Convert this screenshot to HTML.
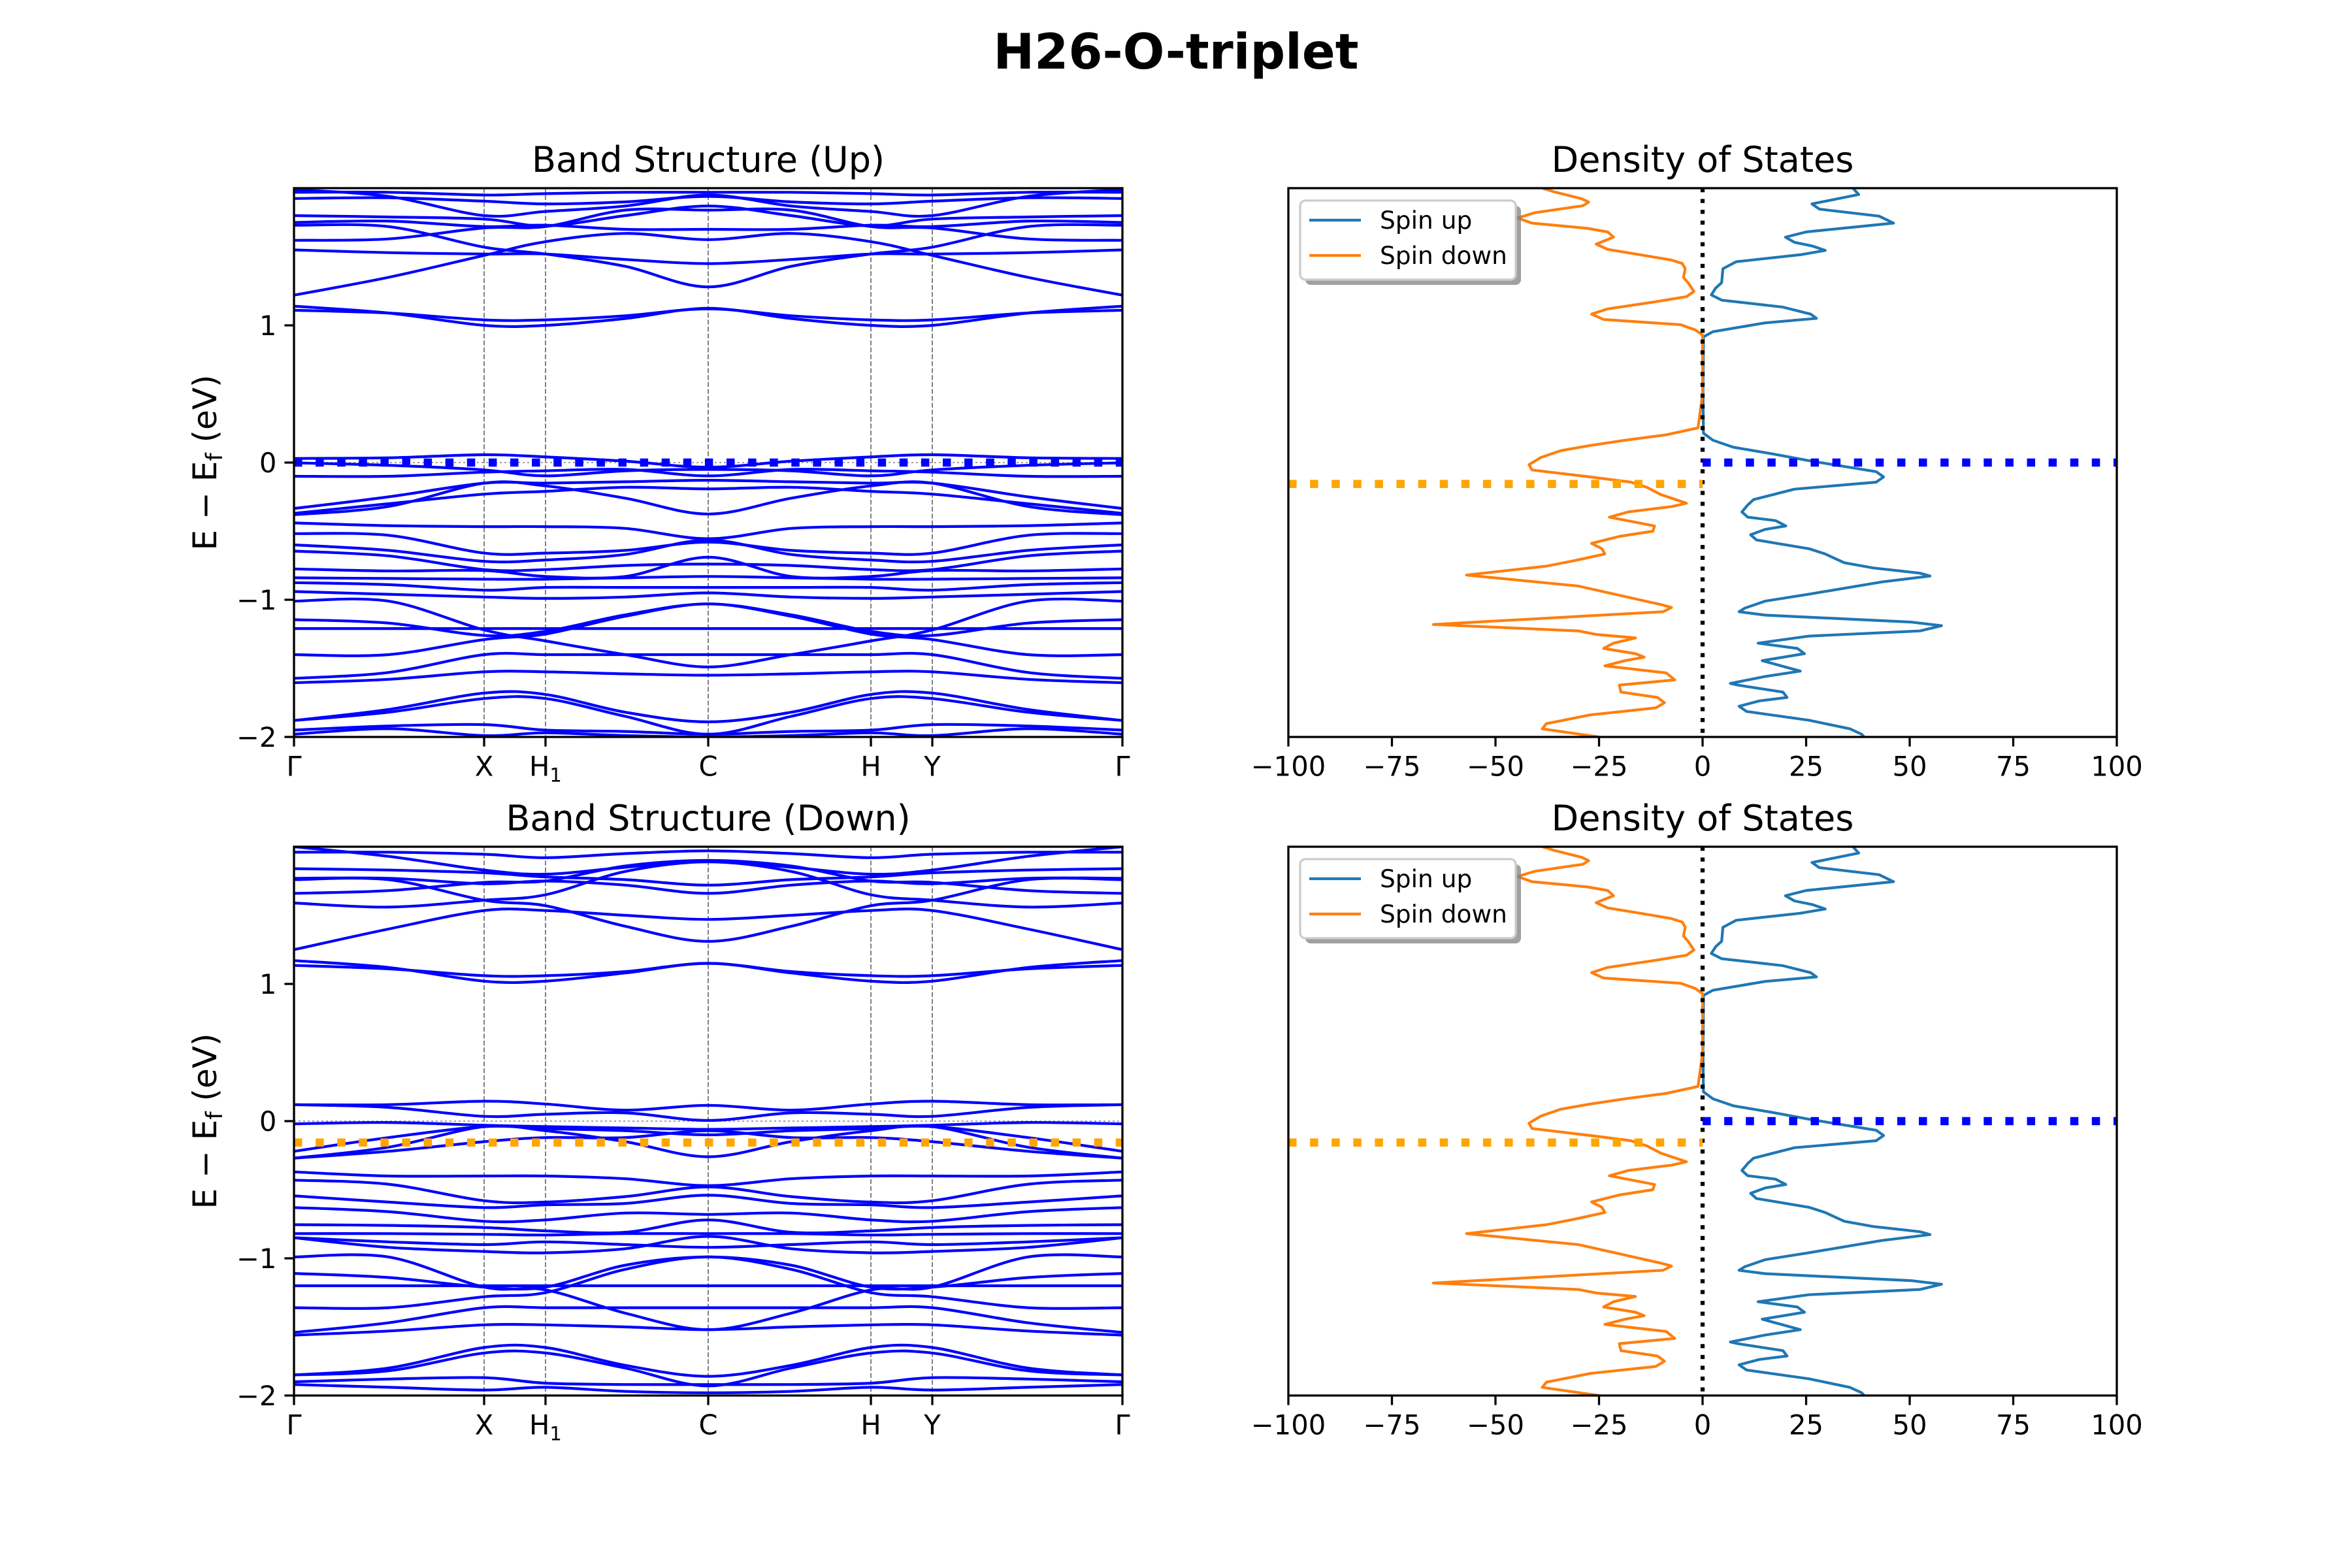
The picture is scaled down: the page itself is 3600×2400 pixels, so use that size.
<!DOCTYPE html>
<html><head><meta charset="utf-8"><style>
html,body{margin:0;padding:0;background:#fff}
svg{display:block;font-family:"DejaVu Sans","Liberation Sans",sans-serif}
</style></head><body>
<svg id="fig" xmlns="http://www.w3.org/2000/svg" width="3600" height="2400" viewBox="0 0 3600 2400">
<rect x="0" y="0" width="3600" height="2400" fill="#fff"/>
<text x="1800" y="105" text-anchor="middle" font-size="75" font-weight="bold">H26-O-triplet</text>
<g id="root"></g>
</svg>
<script>
// ---- data ----
const kLabels = ["Γ","X","H1","C","H","Y","Γ"];
const kTickFrac = [0, 0.2295, 0.3036, 0.5, 0.6964, 0.7705, 1];
const kFrac = [0, 0.114, 0.2295, 0.3036, 0.40, 0.5];
const bandTicks = [-2, -1, 0, 1];
const dosTicks = [-100, -75, -50, -25, 0, 25, 50, 75, 100];
const dosTickLabels = ["−100","−75","−50","−25","0","25","50","75","100"];
const bandTickLabels = ["−2","−1","0","1"];
// bands (spin up): values at [Γ, mid, X, H1, mid, C], mirrored to Γ
const bandsUp = [
[1.97,1.97,1.95,1.96,1.97,1.97],
[1.925,1.93,1.905,1.885,1.90,1.94],
[1.99,1.94,1.80,1.83,1.87,1.95],
[1.80,1.79,1.775,1.725,1.80,1.87],
[1.75,1.76,1.72,1.73,1.70,1.70],
[1.73,1.72,1.57,1.52,1.43,1.28],
[1.62,1.63,1.71,1.72,1.84,1.84],
[1.55,1.53,1.52,1.52,1.48,1.45],
[1.22,1.35,1.51,1.61,1.67,1.625],
[1.14,1.09,1.00,1.00,1.05,1.125],
[1.11,1.09,1.04,1.04,1.07,1.12],
[0.03,0.035,0.057,0.041,0.01,-0.034],
[-0.002,-0.02,-0.054,-0.097,-0.06,-0.05],
[-0.10,-0.10,-0.07,-0.06,-0.05,-0.097],
[-0.335,-0.25,-0.15,-0.15,-0.14,-0.129],
[-0.37,-0.30,-0.23,-0.21,-0.18,-0.192],
[-0.38,-0.32,-0.15,-0.17,-0.26,-0.375],
[-0.44,-0.46,-0.467,-0.467,-0.48,-0.555],
[-0.518,-0.53,-0.66,-0.66,-0.64,-0.58],
[-0.60,-0.64,-0.72,-0.71,-0.67,-0.565],
[-0.645,-0.68,-0.78,-0.78,-0.75,-0.74],
[-0.775,-0.79,-0.787,-0.83,-0.83,-0.69],
[-0.84,-0.845,-0.85,-0.85,-0.84,-0.83],
[-0.875,-0.89,-0.93,-0.91,-0.91,-0.91],
[-0.94,-0.96,-0.98,-0.99,-0.98,-0.95],
[-1.01,-1.01,-1.22,-1.30,-1.40,-1.49],
[-1.145,-1.17,-1.26,-1.23,-1.11,-1.03],
[-1.21,-1.21,-1.21,-1.21,-1.21,-1.21],
[-1.40,-1.40,-1.29,-1.25,-1.12,-1.03],
[-1.573,-1.53,-1.40,-1.40,-1.40,-1.40],
[-1.605,-1.58,-1.525,-1.525,-1.54,-1.55],
[-1.88,-1.80,-1.68,-1.69,-1.82,-1.89],
[-1.88,-1.82,-1.72,-1.72,-1.85,-1.98],
[-1.95,-1.92,-1.91,-1.95,-1.96,-1.98],
[-1.98,-1.94,-1.99,-1.97,-1.99,-2.0]
];
const bandsDown = [
[1.96,1.96,1.945,1.92,1.95,1.97],
[2.0,1.93,1.83,1.80,1.85,1.90],
[1.84,1.83,1.81,1.78,1.76,1.72],
[1.77,1.77,1.73,1.75,1.72,1.66],
[1.76,1.76,1.61,1.57,1.42,1.31],
[1.66,1.68,1.74,1.75,1.86,1.90],
[1.59,1.56,1.61,1.65,1.82,1.89],
[1.25,1.40,1.535,1.535,1.50,1.47],
[1.17,1.12,1.02,1.02,1.08,1.15],
[1.135,1.11,1.06,1.06,1.09,1.15],
[0.12,0.12,0.145,0.125,0.08,0.115],
[0.12,0.10,0.035,0.05,0.06,0.005],
[-0.02,-0.01,-0.03,-0.04,-0.05,-0.06],
[-0.22,-0.12,-0.04,-0.055,-0.07,-0.10],
[-0.27,-0.19,-0.04,-0.07,-0.15,-0.26],
[-0.27,-0.22,-0.15,-0.12,-0.12,-0.07],
[-0.37,-0.40,-0.40,-0.40,-0.42,-0.47],
[-0.43,-0.46,-0.58,-0.59,-0.55,-0.48],
[-0.545,-0.59,-0.63,-0.61,-0.60,-0.54],
[-0.63,-0.66,-0.73,-0.72,-0.67,-0.68],
[-0.755,-0.76,-0.775,-0.80,-0.81,-0.72],
[-0.82,-0.82,-0.825,-0.83,-0.82,-0.82],
[-0.85,-0.88,-0.90,-0.88,-0.90,-0.92],
[-0.85,-0.92,-0.95,-0.96,-0.93,-0.84],
[-0.99,-0.99,-1.21,-1.23,-1.40,-1.52],
[-1.11,-1.14,-1.21,-1.21,-1.05,-0.99],
[-1.20,-1.20,-1.20,-1.20,-1.20,-1.20],
[-1.36,-1.36,-1.28,-1.25,-1.08,-0.99],
[-1.54,-1.47,-1.36,-1.36,-1.36,-1.36],
[-1.56,-1.53,-1.485,-1.485,-1.50,-1.52],
[-1.85,-1.80,-1.65,-1.65,-1.78,-1.86],
[-1.85,-1.82,-1.69,-1.69,-1.80,-1.93],
[-1.90,-1.88,-1.87,-1.91,-1.92,-1.92],
[-1.92,-1.94,-1.96,-1.94,-1.97,-1.98]
];
const fermiUp = 0.0;
const fermiDown = -0.156;
const dosUpE = [2.0,1.954,1.885,1.847,1.796,1.745,1.681,1.643,1.605,1.579,1.546,1.515,1.464,1.413,1.311,1.273,1.222,1.184,1.133,1.082,1.051,1.018,0.954,0.916,0.5,0.214,0.163,0.112,0.061,0.010,-0.066,-0.105,-0.143,-0.194,-0.270,-0.309,-0.360,-0.398,-0.423,-0.462,-0.487,-0.526,-0.564,-0.628,-0.666,-0.730,-0.768,-0.806,-0.827,-0.870,-0.959,-1.010,-1.061,-1.087,-1.112,-1.163,-1.189,-1.227,-1.265,-1.316,-1.355,-1.393,-1.444,-1.520,-1.559,-1.610,-1.622,-1.673,-1.712,-1.737,-1.776,-1.814,-1.878,-1.941,-1.980,-2.0];
const dosUp = [36.3,37.7,26.4,28.2,42.6,46.1,25,20,22.2,26.4,29.6,23.6,8.1,4.9,4.6,3.2,2.1,4.6,19.4,26.1,27.5,15.1,2.5,0.2,0.1,0.2,2.5,7.4,17.3,26.4,41.9,43.7,41.9,22.2,12.3,10.9,9.5,10.9,17.6,20.1,15.1,11.6,13,25.7,29.6,34.2,41.2,52.5,54.9,43.3,25.7,15.1,10.2,8.8,15.1,50.4,57.7,52.5,25.7,13.4,22.9,24.6,14.4,23.6,15.1,6.7,8.5,19.4,20.4,13.7,8.8,10.6,25.7,35.6,38.4,39];
const dosDnE = [2.0,1.974,1.923,1.898,1.872,1.821,1.783,1.745,1.707,1.681,1.643,1.592,1.554,1.515,1.477,1.451,1.413,1.349,1.311,1.247,1.209,1.171,1.120,1.082,1.043,1.005,0.967,0.929,0.5,0.253,0.202,0.163,0.125,0.087,0.036,-0.015,-0.054,-0.105,-0.143,-0.181,-0.232,-0.296,-0.321,-0.360,-0.398,-0.462,-0.500,-0.538,-0.589,-0.628,-0.666,-0.717,-0.755,-0.82,-0.90,-1.036,-1.056,-1.087,-1.18,-1.227,-1.253,-1.278,-1.316,-1.355,-1.393,-1.418,-1.444,-1.482,-1.533,-1.584,-1.622,-1.673,-1.712,-1.750,-1.788,-1.839,-1.903,-1.941,-2.0];
const dosDn = [-38.7,-35.9,-29.2,-27.5,-28.9,-40.5,-44.7,-41.2,-27.8,-22.9,-21.5,-25.7,-22.9,-15.1,-7.7,-4.9,-4.2,-4.6,-3.5,-2.1,-3.9,-11.6,-22.9,-26.8,-23.9,-5.3,-1.8,0,0,-1.1,-8.8,-18.7,-27.1,-34.2,-39.1,-41.9,-41.2,-27.1,-17.3,-13.4,-10.2,-3.9,-7.5,-18,-22.5,-11.6,-12,-20.1,-26.8,-24.3,-23.6,-31.3,-37.7,-57,-30,-9.9,-7.5,-9.5,-65,-30,-25.7,-16.2,-21.5,-23.9,-16.2,-14.1,-18.7,-23.6,-8.8,-6.7,-20.1,-19.7,-10.9,-9.2,-11.3,-27.1,-37.7,-38.7,-25];

// ---- layout ----
const NS = "http://www.w3.org/2000/svg";
const root = document.getElementById('root');
function mk(tag, attrs, parent) {
  const e = document.createElementNS(NS, tag);
  for (const k in attrs) e.setAttribute(k, attrs[k]);
  (parent || root).appendChild(e);
  return e;
}
const L = {x0:450, x1:1718}, R = {x0:1972, x1:3240};
const rows = [{y0:288, y1:1128}, {y0:1296, y1:2136}];
const TICK = 14.6, FS = 41.7;

function eScale(p){ return E => p.y0 + (2 - E) / 4 * (p.y1 - p.y0); }
function kScale(p){ return f => p.x0 + f * (p.x1 - p.x0); }
function dScale(p){ return v => p.x0 + (v + 100) / 200 * (p.x1 - p.x0); }

function crPath(pts) {
  let d = "M" + pts[0][0].toFixed(1) + "," + pts[0][1].toFixed(1);
  for (let i = 0; i < pts.length - 1; i++) {
    const p0 = pts[Math.max(0, i - 1)], p1 = pts[i], p2 = pts[i + 1], p3 = pts[Math.min(pts.length - 1, i + 2)];
    const c1x = p1[0] + (p2[0] - p0[0]) / 6, c1y = p1[1] + (p2[1] - p0[1]) / 6;
    const c2x = p2[0] - (p3[0] - p1[0]) / 6, c2y = p2[1] - (p3[1] - p1[1]) / 6;
    d += "C" + c1x.toFixed(1) + "," + c1y.toFixed(1) + " " + c2x.toFixed(1) + "," + c2y.toFixed(1) + " " + p2[0].toFixed(1) + "," + p2[1].toFixed(1);
  }
  return d;
}

function bandPanel(idx, bands, title, spin) {
  const p = Object.assign({}, L, rows[idx]);
  const ky = eScale(p), kx = kScale(p);
  const g = mk('g', {});
  
  
  const cid = 'clipb' + idx;
  const cp = mk('clipPath', {id: cid}, g);
  mk('rect', {x:p.x0, y:p.y0, width:p.x1-p.x0, height:p.y1-p.y0}, cp);
  const t = mk('text', {x:(p.x0+p.x1)/2, y:p.y0-25, 'text-anchor':'middle', 'font-size':54}, g);
  
  
  t.textContent = title;
  for (let i = 1; i < kTickFrac.length - 1; i++) {
    const ln = mk('line', {x1:kx(kTickFrac[i]), x2:kx(kTickFrac[i]), y1:p.y0, y2:p.y1, stroke:'#808080', 'stroke-width':2, 'stroke-dasharray':'7.4,3.2'}, g);
    
    
  }
  const bg = mk('g', {'clip-path':'url(#'+cid+')'}, g);
  const zl = mk('line', {x1:p.x0, x2:p.x1, y1:ky(0), y2:ky(0), stroke:'#a0a0a0', 'stroke-width':2, 'stroke-dasharray':'3,4'}, bg);
  
  
  bands.forEach(b => {
    const vals = b.concat(b.slice(0, 5).reverse());
    const fr = kFrac.concat(kFrac.slice(0, 5).reverse().map(f => 1 - f));
    const pts = vals.map((v, i) => [kx(fr[i]), ky(v)]);
    const path = mk('path', {d:crPath(pts), fill:'none', stroke:'#0000ff', 'stroke-width':4.2}, bg);
    
    
  });
  const fe = spin === 'up' ? fermiUp : fermiDown;
  const fl = mk('line', {x1:p.x0, x2:p.x1, y1:ky(fe), y2:ky(fe), stroke: spin==='up' ? '#0000ff' : '#ffa500', 'stroke-width':12.5, 'stroke-dasharray':'12.5,20.6'}, bg);
  
  
  const fr = mk('rect', {x:p.x0, y:p.y0, width:p.x1-p.x0, height:p.y1-p.y0, fill:'none', stroke:'#000', 'stroke-width':3.3}, g);
  
  
  bandTicks.forEach((v, i) => {
    mk('line', {x1:p.x0-TICK, x2:p.x0, y1:ky(v), y2:ky(v), stroke:'#000', 'stroke-width':3.3}, g);
    const tl = mk('text', {x:p.x0-TICK-12, y:ky(v)+15, 'text-anchor':'end', 'font-size':FS}, g);
    
    
    tl.textContent = bandTickLabels[i];
  });
  kTickFrac.forEach((f, i) => {
    mk('line', {x1:kx(f), x2:kx(f), y1:p.y1, y2:p.y1+TICK, stroke:'#000', 'stroke-width':3.3}, g);
    const tl = mk('text', {x:kx(f), y:p.y1+TICK+14+31, 'text-anchor':'middle', 'font-size':FS}, g);
    
    
    const lab = kLabels[i];
    if (lab === 'H1') {
      tl.textContent = 'H';
      const s = mk('tspan', {'font-size':29, dy:9}, tl);
      s.textContent = '1';
    } else tl.textContent = lab;
  });
  const yc = (p.y0 + p.y1) / 2;
  const yl = mk('text', {x:0, y:0, transform:'translate(331,'+yc+') rotate(-90)', 'text-anchor':'middle', 'font-size':50}, g);
  
  
  yl.textContent = 'E − E';
  const sub = mk('tspan', {'font-size':35, dy:9}, yl);
  sub.textContent = 'f';
  const rest = mk('tspan', {dy:-9}, yl);
  rest.textContent = ' (eV)';
}

function dosPanel(idx) {
  const p = Object.assign({}, R, rows[idx]);
  const ey = eScale(p), dx = dScale(p);
  const g = mk('g', {});
  
  
  const cid = 'clipd' + idx;
  const cp = mk('clipPath', {id: cid}, g);
  mk('rect', {x:p.x0, y:p.y0, width:p.x1-p.x0, height:p.y1-p.y0}, cp);
  const t = mk('text', {x:(p.x0+p.x1)/2, y:p.y0-25, 'text-anchor':'middle', 'font-size':54}, g);
  
  
  t.textContent = 'Density of States';
  const cg = mk('g', {'clip-path':'url(#'+cid+')'}, g);
  const up = mk('polyline', {points: dosUp.map((v,i)=>dx(v).toFixed(1)+','+ey(dosUpE[i]).toFixed(1)).join(' '), fill:'none', stroke:'#1f77b4', 'stroke-width':4.2, 'stroke-linejoin':'round'}, cg);
  
  
  const dn = mk('polyline', {points: dosDn.map((v,i)=>dx(v).toFixed(1)+','+ey(dosDnE[i]).toFixed(1)).join(' '), fill:'none', stroke:'#ff7f0e', 'stroke-width':4.2, 'stroke-linejoin':'round'}, cg);
  
  
  const vz = mk('line', {x1:dx(0), x2:dx(0), y1:p.y0, y2:p.y1, stroke:'#000', 'stroke-width':6.25, 'stroke-dasharray':'6.25,10.3'}, cg);
  
  
  const fu = mk('line', {x1:dx(0), x2:dx(100), y1:ey(fermiUp), y2:ey(fermiUp), stroke:'#0000ff', 'stroke-width':12.5, 'stroke-dasharray':'12.5,20.6'}, cg);
  
  
  const fd = mk('line', {x1:dx(-100), x2:dx(0), y1:ey(fermiDown), y2:ey(fermiDown), stroke:'#ffa500', 'stroke-width':12.5, 'stroke-dasharray':'12.5,20.6'}, cg);
  
  
  const fr = mk('rect', {x:p.x0, y:p.y0, width:p.x1-p.x0, height:p.y1-p.y0, fill:'none', stroke:'#000', 'stroke-width':3.3}, g);
  
  
  dosTicks.forEach((v, i) => {
    mk('line', {x1:dx(v), x2:dx(v), y1:p.y1, y2:p.y1+TICK, stroke:'#000', 'stroke-width':3.3}, g);
    const tl = mk('text', {x:dx(v), y:p.y1+TICK+14+31, 'text-anchor':'middle', 'font-size':FS}, g);
    
    
    tl.textContent = dosTickLabels[i];
  });
  const lg = mk('g', {}, g);
  
  
  const lx = p.x0 + 18, ly = p.y0 + 19;
  mk('rect', {x:lx+8, y:ly+8, width:330, height:121, rx:8, fill:'#808080', 'fill-opacity':0.75}, lg);
  mk('rect', {x:lx, y:ly, width:330, height:121, rx:8, fill:'#fff', stroke:'#cccccc', 'stroke-width':3.3}, lg);
  [['Spin up','#1f77b4',ly+30],['Spin down','#ff7f0e',ly+84]].forEach(e => {
    const eg = mk('g', {}, lg);
    
    
    mk('line', {x1:lx+14, x2:lx+93, y1:e[2], y2:e[2], stroke:e[1], 'stroke-width':4.2}, eg);
    const tx = mk('text', {x:lx+122, y:e[2]+13, 'font-size':37.5}, eg);
    tx.textContent = e[0];
  });
}

bandPanel(0, bandsUp, 'Band Structure (Up)', 'up');
dosPanel(0);
bandPanel(1, bandsDown, 'Band Structure (Down)', 'down');
dosPanel(1);
</script>
</body></html>
